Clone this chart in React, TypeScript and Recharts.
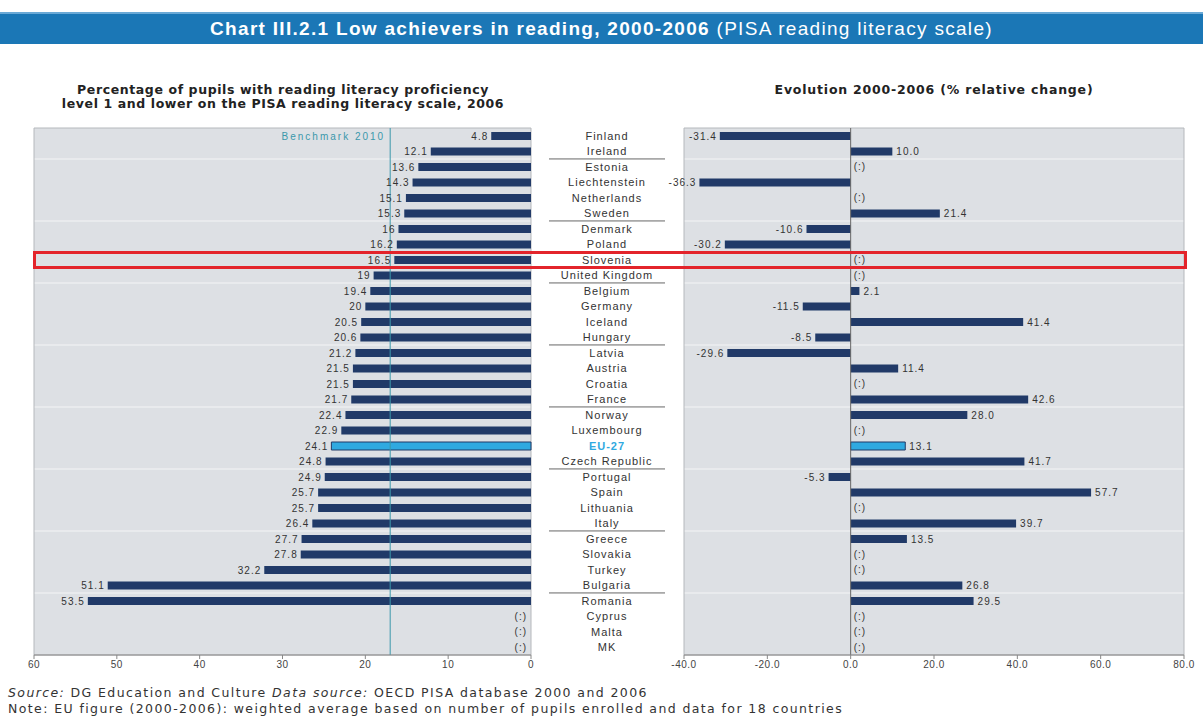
import React from "react";
import {
    Bar,
    ComposedChart,
    CartesianGrid,
    Cell,
    LabelList,
    ReferenceArea,
    ReferenceLine,
    Scatter,
    XAxis,
    YAxis,
} from "recharts";

const countries = [
    "Finland", "Ireland", "Estonia", "Liechtenstein", "Netherlands", "Sweden", "Denmark", "Poland",
    "Slovenia", "United Kingdom", "Belgium", "Germany", "Iceland", "Hungary", "Latvia", "Austria",
    "Croatia", "France", "Norway", "Luxembourg", "EU-27", "Czech Republic", "Portugal", "Spain",
    "Lithuania", "Italy", "Greece", "Slovakia", "Turkey", "Bulgaria", "Romania", "Cyprus", "Malta", "MK",
];

// % of pupils at level 1 or lower, 2006 (null = not available)
const lowAchievers2006 = [
    4.8, 12.1, 13.6, 14.3, 15.1, 15.3, 16, 16.2, 16.5, 19, 19.4, 20, 20.5, 20.6, 21.2, 21.5,
    21.5, 21.7, 22.4, 22.9, 24.1, 24.8, 24.9, 25.7, 25.7, 26.4, 27.7, 27.8, 32.2, 51.1, 53.5, null, null, null,
];

// % relative change 2000-2006
const change2000_2006 = [
    -31.4, 10.0, null, -36.3, null, 21.4, -10.6, -30.2, null, null, 2.1, -11.5, 41.4, -8.5, -29.6, 11.4,
    null, 42.6, 28.0, null, 13.1, 41.7, -5.3, 57.7, null, 39.7, 13.5, null, null, 26.8, 29.5, null, null, null,
];

const groupEnds = ["Ireland", "Sweden", "United Kingdom", "Hungary", "France", "Czech Republic", "Italy", "Bulgaria"];

const leftTicks = [0, 10, 20, 30, 40, 50, 60];
const rightTicks = [-40, -20, 0, 20, 40, 60, 80];
const BENCHMARK = 17;

const NAVY = "#213a68";
const EU_BLUE = "#2fa9e0";
const PLOT_BG = "#dde0e4";
const TEXT = "#333";

// "(:)" markers sit at the zero line of the missing rows
const data = countries.map((country, i) => ({
    country,
    low: lowAchievers2006[i],
    lowNA: lowAchievers2006[i] == null ? 0 : null,
    change: change2000_2006[i],
    changeNA: change2000_2006[i] == null ? 0 : null,
}));

const gridLines = ({ offset }: any) => {
    const row = offset.height / countries.length;
    const lines: number[] = [];
    for (let k = 2; k < countries.length; k += 4) lines.push(offset.top + k * row);
    return lines;
};

const labelStyle = { fontSize: 10, fill: TEXT, letterSpacing: 1 };

// the labels get the country name as value, so they look their numbers up
const LeftLabel = (props: any) => {
    const { x, y, width, height, value } = props;
    const v = lowAchievers2006[countries.indexOf(value)];
    if (v == null) return null;
    const left = Math.min(x, x + width);
    return (
        <text x={left - 3} y={y + height / 2} dy={3.5} textAnchor="end" {...labelStyle}>
            {v}
        </text>
    );
};

const RightLabel = (props: any) => {
    const { x, y, width, height, value } = props;
    const v = change2000_2006[countries.indexOf(value)];
    if (v == null) return null;
    const cy = y + height / 2;
    if (v < 0) {
        return (
            <text x={Math.min(x, x + width) - 3} y={cy} dy={3.5} textAnchor="end" {...labelStyle}>
                {v.toFixed(1)}
            </text>
        );
    }
    return (
        <text x={Math.max(x, x + width) + 4} y={cy} dy={3.5} textAnchor="start" {...labelStyle}>
            {v.toFixed(1)}
        </text>
    );
};

const LeftNA = (props: any) => {
    const { cx, cy, payload } = props;
    if (!payload || payload.low != null) return <g />;
    return (
        <text x={cx - 4} y={cy} dy={3.5} textAnchor="end" {...labelStyle}>
            (:)
        </text>
    );
};

const RightNA = (props: any) => {
    const { cx, cy, payload } = props;
    if (!payload || payload.change != null) return <g />;
    return (
        <text x={cx + 3} y={cy} dy={3.5} textAnchor="start" {...labelStyle}>
            (:)
        </text>
    );
};

const CountryTick = (props: any) => {
    const { x, y, payload } = props;
    const name = payload.value;
    const isEU = name === "EU-27";
    const cx = x + 76;
    return (
        <g>
            <text
                x={cx}
                y={y}
                dy={4}
                textAnchor="middle"
                fontSize={11}
                letterSpacing={1}
                fill={isEU ? EU_BLUE : TEXT}
                fontWeight={isEU ? "bold" : "normal"}
            >
                {name}
            </text>
            {groupEnds.includes(name) && (
                <line x1={cx - 58} x2={cx + 58} y1={y + 7.7} y2={y + 7.7} stroke="#666" strokeWidth={1} />
            )}
        </g>
    );
};

const tickStyle = { fontSize: 10, fill: "#444", letterSpacing: 0.5 };

export default function App() {
    return (
        <div
            style={{
                position: "absolute",
                left: 0,
                top: 0,
                width: 1203,
                height: 717,
                background: "#fff",
                fontFamily: '"Liberation Sans", Arial, sans-serif',
                overflow: "hidden",
            }}
        >
            <div
                style={{
                    position: "absolute",
                    left: 0,
                    top: 12,
                    width: 1203,
                    height: 32,
                    background: "#1b77b6",
                    borderTop: "2px solid #6aa9d6",
                    boxSizing: "border-box",
                    color: "#fff",
                    fontSize: 19,
                    letterSpacing: 1.3,
                    lineHeight: "30px",
                    textAlign: "center",
                }}
            >
                <b>Chart III.2.1 Low achievers in reading, 2000-2006</b> (PISA reading literacy scale)
            </div>

            <div
                style={{
                    position: "absolute",
                    left: 33,
                    top: 83,
                    width: 500,
                    textAlign: "center",
                    fontFamily: '"DejaVu Sans", sans-serif',
                    fontWeight: "bold",
                    fontSize: 12.5,
                    letterSpacing: 0.6,
                    lineHeight: "14px",
                    color: "#222",
                }}
            >
                Percentage of pupils with reading literacy proficiency
                <br />
                level 1 and lower on the PISA reading literacy scale, 2006
            </div>
            <div
                style={{
                    position: "absolute",
                    left: 684,
                    top: 83,
                    width: 500,
                    textAlign: "center",
                    fontFamily: '"DejaVu Sans", sans-serif',
                    fontWeight: "bold",
                    fontSize: 12.5,
                    letterSpacing: 0.8,
                    lineHeight: "14px",
                    color: "#222",
                }}
            >
                Evolution 2000-2006 (% relative change)
            </div>

            <div style={{ position: "absolute", left: 0, top: 0 }}>
                <ComposedChart
                    width={684}
                    height={680}
                    data={data}
                    layout="vertical"
                    margin={{ top: 128, right: 0, bottom: 5, left: 34 }}
                    barSize={8}
                >
                    <CartesianGrid
                        fill={PLOT_BG}
                        vertical={false}
                        stroke="#f4f5f6"
                        horizontalCoordinatesGenerator={gridLines}
                    />
                    <XAxis
                        type="number"
                        domain={[0, 60]}
                        ticks={leftTicks}
                        interval={0}
                        reversed
                        height={20}
                        tickSize={4}
                        tickMargin={2}
                        stroke="#888"
                        tick={tickStyle}
                    />
                    <YAxis
                        type="category"
                        dataKey="country"
                        orientation="right"
                        width={153}
                        tickSize={0}
                        tickMargin={0}
                        axisLine={false}
                        tickLine={false}
                        interval={0}
                        tick={<CountryTick />}
                    />
                    <ReferenceArea x1={0} x2={60} fill="none" stroke="#b5b8bc" />
                    <ReferenceLine
                        x={BENCHMARK}
                        stroke="#3b98ab"
                        strokeWidth={1}
                        label={{
                            value: "Benchmark 2010",
                            position: "insideTopRight",
                            offset: 5,
                            fill: "#3b98ab",
                            fontSize: 10,
                            letterSpacing: 2,
                        }}
                    />
                    <Bar dataKey="low" fill={NAVY} isAnimationActive={false}>
                        {data.map((d, i) => (
                            <Cell
                                key={`l-${i}`}
                                fill={d.country === "EU-27" ? EU_BLUE : NAVY}
                                stroke={d.country === "EU-27" ? NAVY : "none"}
                            />
                        ))}
                        <LabelList dataKey="country" content={<LeftLabel />} />
                    </Bar>
                    <Scatter dataKey="lowNA" shape={<LeftNA />} isAnimationActive={false} />
                </ComposedChart>
            </div>

            <div style={{ position: "absolute", left: 634, top: 0 }}>
                <ComposedChart
                    width={569}
                    height={680}
                    data={data}
                    layout="vertical"
                    margin={{ top: 128, right: 19, bottom: 5, left: 50 }}
                    barSize={8}
                >
                    <CartesianGrid
                        fill={PLOT_BG}
                        vertical={false}
                        stroke="#f4f5f6"
                        horizontalCoordinatesGenerator={gridLines}
                    />
                    <XAxis
                        type="number"
                        domain={[-40, 80]}
                        ticks={rightTicks}
                        interval={0}
                        height={20}
                        tickSize={4}
                        tickMargin={2}
                        stroke="#888"
                        tick={tickStyle}
                        tickFormatter={(v: number) => v.toFixed(1)}
                    />
                    <YAxis type="category" dataKey="country" hide />
                    <ReferenceArea x1={-40} x2={80} fill="none" stroke="#b5b8bc" />
                    <ReferenceLine x={0} stroke="#666" strokeWidth={1} />
                    <Bar dataKey="change" fill={NAVY} isAnimationActive={false}>
                        {data.map((d, i) => (
                            <Cell
                                key={`r-${i}`}
                                fill={d.country === "EU-27" ? EU_BLUE : NAVY}
                                stroke={d.country === "EU-27" ? NAVY : "none"}
                            />
                        ))}
                        <LabelList dataKey="country" content={<RightLabel />} />
                    </Bar>
                    <Scatter dataKey="changeNA" shape={<RightNA />} isAnimationActive={false} />
                </ComposedChart>
            </div>

            <div
                style={{
                    position: "absolute",
                    left: 33,
                    top: 251,
                    width: 1154,
                    height: 18,
                    border: "3px solid #e3242b",
                    boxSizing: "border-box",
                    pointerEvents: "none",
                }}
            />

            <div
                style={{
                    position: "absolute",
                    left: 8,
                    top: 685,
                    fontFamily: '"DejaVu Sans", sans-serif',
                    fontSize: 12.5,
                    letterSpacing: 1.4,
                    lineHeight: "16px",
                    color: "#333",
                    whiteSpace: "nowrap",
                }}
            >
                <i>Source:</i> DG Education and Culture <i>Data source:</i> OECD PISA database 2000 and 2006
                <br />
                Note: EU figure (2000-2006): weighted average based on number of pupils enrolled and data for 18 countries
            </div>
        </div>
    );
}
